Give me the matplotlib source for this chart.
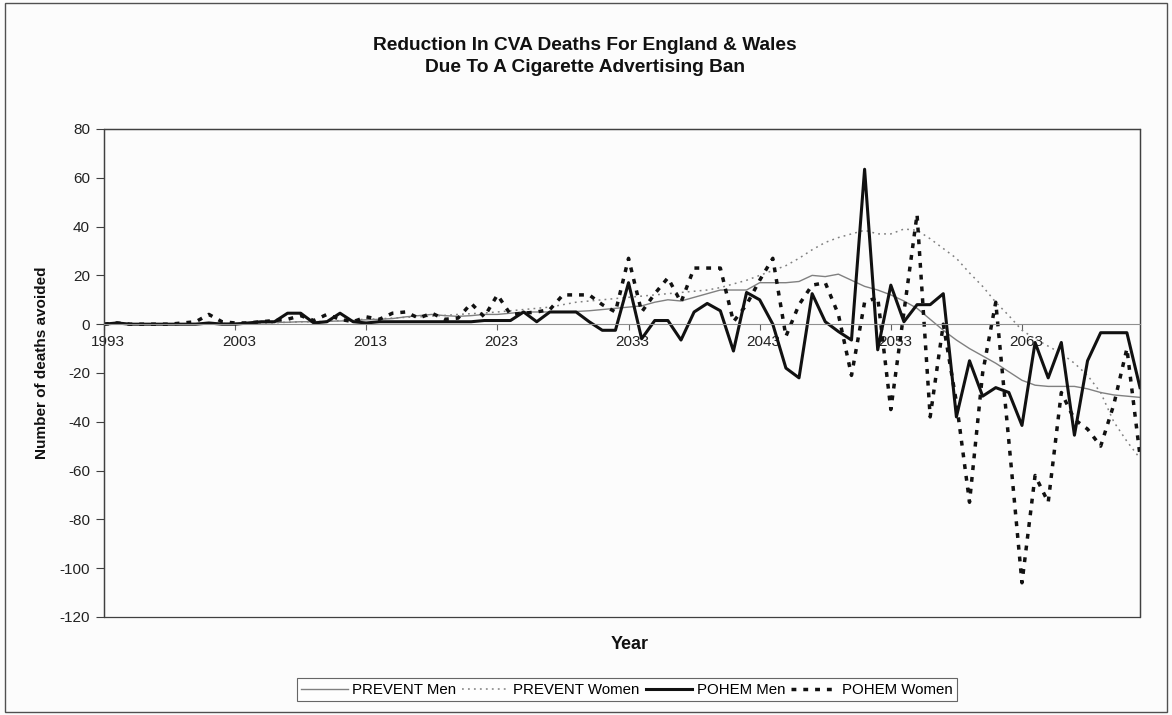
import matplotlib.pyplot as plt
import matplotlib.transforms as mtransforms
from matplotlib.patches import Rectangle

plt.rcParams['font.family'] = ['Liberation Sans', 'DejaVu Sans']
plt.rcParams['lines.scale_dashes'] = False
plt.rcParams['axes.unicode_minus'] = False

# categories
years = list(range(1993, 2073))
tick_years = [1993, 2003, 2013, 2023, 2033, 2043, 2053, 2063]
y_ticks = [80, 60, 40, 20, 0, -20, -40, -60, -80, -100, -120]

# deaths avoided
prevent_men = [0, 0, 0, 0, 0, 0, 0.2, 0.3, 0.3, 0.4,
               0.5, 0.5, 0.6, 0.7, 0.8, 1, 1, 1.2, 1.3, 1.5,
               1.8, 2, 2.3, 3, 3.5, 4, 3.5, 3.2, 3.5, 4,
               4, 4.5, 5, 5, 5, 5, 5.2, 5.5, 6, 6.5,
               7, 7.5, 9, 10, 9.5, 11, 12.5, 14, 14, 14,
               17, 17, 17, 17.5, 20, 19.5, 20.5, 18, 15.5, 14,
               12, 9.5, 6.5, 2, -2.5, -6.5, -10, -13, -16, -19.5,
               -23, -25, -25.5, -25.5, -25.5, -26.5, -28, -29, -29.5, -30]

prevent_women = [0, 0, 0, 0, 0, 0, 0, 0, 0.2, 0.3,
                 0.3, 0.4, 0.5, 0.6, 0.8, 1, 1, 1.2, 1.5, 1.8,
                 2, 2.2, 2.5, 2.8, 3, 3.3, 3.6, 4, 4.3, 4.6,
                 5, 5.5, 6, 6.5, 7, 8, 9, 9.5, 10, 10.5,
                 11, 11.5, 12, 12.5, 13, 13.5, 14, 15, 16.5, 18,
                 20, 22, 24, 27, 30.5, 33.5, 35.5, 37, 38.5, 37,
                 37, 39, 38.5, 35, 31, 27, 21, 15.5, 9, 3.5,
                 -2.5, -6, -9, -12, -16, -21, -28, -40, -48, -55]

pohem_men = [0, 0.5, 0, 0, 0, 0, 0, 0, 0.5, 0,
             0, 0.5, 1, 1, 4.5, 4.5, 0.5, 1, 4.5, 1,
             0.5, 1, 1, 1, 1, 1, 1, 1, 1, 1.5,
             1.5, 1.5, 5, 1, 5, 5, 5, 1, -2.5, -2.5,
             17, -6, 1.5, 1.5, -6.5, 5, 8.5, 5.5, -11, 13,
             10, 0, -18, -22, 12.5, 1, -3, -6.5, 63.5, -10.5,
             16, 1, 8, 8, 12.5, -38, -15, -29.5, -26, -28,
             -41.5, -7.5, -22, -7.5, -45.5, -15, -3.5, -3.5, -3.5, -26]

pohem_women = [0, 0.5, 0, 0, 0, 0, 0.5, 1, 4, 1,
               0.5, 0.5, 1, 1.5, 2, 3.5, 1.5, 4, 2, 1,
               3, 2, 4.5, 5, 2.5, 4.5, 2, 2.5, 8.5, 3,
               12, 4, 4.5, 5, 6, 12, 12, 12, 8, 5,
               27, 5, 12.5, 19, 9, 23, 23, 23, 1, 8,
               18, 27, -5, 8, 16, 17, 4, -21, 9, 11,
               -35, 5, 45, -38, 0, -32, -73, -20, 9, -48,
               -106, -62, -73, -28, -39, -43, -50, -33, -10, -54]

fig = plt.figure(figsize=(11.72, 7.15), dpi=100, facecolor='#fcfcfc')
ax = fig.add_axes([0.0887, 0.1371, 0.8840, 0.6825])
ax.set_facecolor('#fcfcfc')

ax.plot(years, prevent_men, color='#808080', lw=1.0, label='PREVENT Men')
ax.plot(years, prevent_women, color='#808080', lw=1.1,
        linestyle=(0, (1.3, 3.0)), label='PREVENT Women')
ax.plot(years, pohem_men, color='#111111', lw=2.2, label='POHEM Men')
ax.plot(years, pohem_women, color='#111111', lw=2.5,
        linestyle=(0, (3.5, 5.0)), label='POHEM Women')

ax.set_xlim(years[0], years[-1])
ax.set_ylim(-120, 80)
ax.set_yticks(y_ticks)
ax.set_xticks(tick_years)
ax.set_xticklabels([str(y) for y in tick_years])

# category axis crosses at zero
ax.spines['bottom'].set_position(('data', 0))
ax.spines['bottom'].set_color('#909090')
ax.spines['bottom'].set_linewidth(0.8)
for s in ['top', 'right', 'left']:
    ax.spines[s].set_color('#404040')
    ax.spines[s].set_linewidth(0.9)
ax.add_patch(Rectangle((0, 0), 1, 1, transform=ax.transAxes, fill=False,
                       edgecolor='#404040', lw=0.9, clip_on=False))

ax.tick_params(axis='x', direction='out', length=4, pad=3.5, labelsize=11,
               color='#606060', labelcolor='#222222')
ax.tick_params(axis='y', direction='out', length=6, pad=4, labelsize=11,
               color='#404040', labelcolor='#222222')
offset = mtransforms.ScaledTranslation(4 / 100, 0, fig.dpi_scale_trans)
for lab in ax.get_xticklabels():
    lab.set_transform(lab.get_transform() + offset)

fig.text(0.499, 0.921, 'Reduction In CVA Deaths For England & Wales\nDue To A Cigarette Advertising Ban',
         ha='center', va='center', fontsize=13.8, fontweight='bold',
         linespacing=1.4, color='#111111')
fig.text(0.5375, 0.098, 'Year', ha='center', va='center', fontsize=13,
         fontweight='bold', color='#111111')
fig.text(0.036, 0.492, 'Number of deaths avoided', ha='center', va='center',
         rotation=90, fontsize=11, fontweight='bold', color='#111111')

leg = fig.legend(loc='center', bbox_to_anchor=(0.535, 0.035), ncol=4,
                 fontsize=10.8, frameon=True, fancybox=False, edgecolor='#404040',
                 handlelength=3.1, handletextpad=0.3, columnspacing=0.4,
                 borderpad=0.3)
leg.get_frame().set_linewidth(0.8)

fig.patches.append(Rectangle((0.004, 0.004), 0.992, 0.992, transform=fig.transFigure,
                             fill=False, edgecolor='#505050', lw=1.0))

fig.savefig('out.png', dpi=100, facecolor=fig.get_facecolor())
